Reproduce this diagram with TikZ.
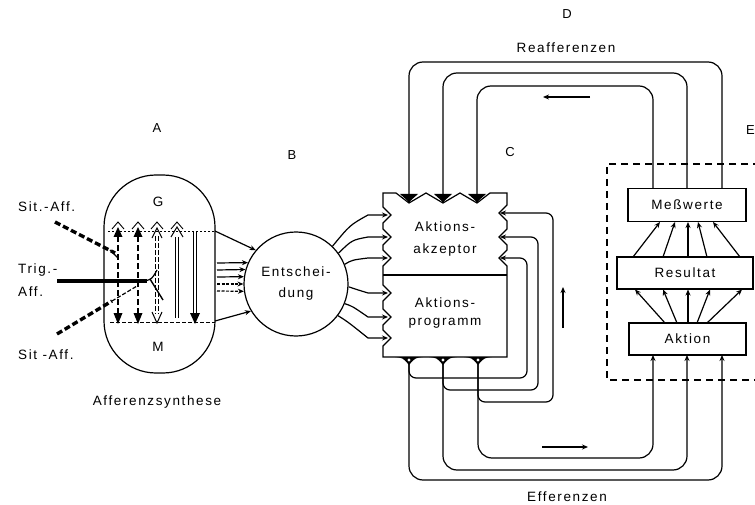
\documentclass[tikz,border=0pt]{standalone}
\usepackage{fontspec}
\setmainfont[LetterSpace=12]{Liberation Sans}
\usetikzlibrary{arrows.meta}
\begin{document}
\begin{tikzpicture}[x=1pt,y=-1pt,
  every node/.style={font=\fontsize{13.5}{20}\selectfont, inner sep=0pt},
  letter/.style={font=\fontsize{13}{14}\selectfont},
  ln/.style={line width=1.2pt},
  arr/.style={ln,-{Stealth[length=6pt,width=5pt]}},
  bigarr/.style={ln,-{Stealth[length=8pt,width=10pt]}},
  box/.style={draw, line width=1.2pt, rectangle, align=center},
  loop/.style={bigarr, rounded corners=14pt},
  coll/.style={arr, rounded corners=7pt},
  eff/.style={arr, rounded corners=14pt},
  thickdash/.style={line width=3.4pt, dash pattern=on 6pt off 3pt},
  hollow/.style={line width=0.9pt, double, double distance=1.8pt}
]
\useasboundingbox (0,0) rectangle (755,505);

% ---------- labels ----------
\node[letter] (lA) at (157,128) {A};
\node[letter] (lB) at (292,155) {B};
\node[letter] (lC) at (510,152) {C};
\node[letter] (lD) at (567,14) {D};
\node[letter, anchor=east] (lE) at (755,130) {E};
\node (reaff) at (566,48) {Reafferenzen};
\node (eff) at (567,497) {Efferenzen};
\node (afs) at (157,402) {Afferenzsynthese};
\node[anchor=west] (sit1) at (18,207) {Sit.-Aff.};
\node[anchor=west] (trig1) at (18,270) {Trig.-};
\node[anchor=west] (trig2) at (18,292) {Aff.};
\node[anchor=west] (sit2) at (18,355) {Sit -Aff.};

% ---------- A : Afferenzsynthese ----------
\node[draw, line width=1.2pt, minimum width=111pt, minimum height=198pt,
      rounded corners=52pt] (syn) at (159.5,274) {};
\node (G) at (158,202) {G};
\node (M) at (158,347) {M};

\foreach \x in {118,138}{
  \draw[thickdash, line width=2.8pt] (\x,236) -- (\x,314);
  \fill (\x-4.5,237) -- (\x,227) -- (\x+4.5,237) -- cycle;
  \fill (\x-4.5,313) -- (\x,324) -- (\x+4.5,313) -- cycle;
  \draw[line width=0.9pt] (\x-6,229) -- (\x,222) -- (\x+6,229);
}
\draw[hollow, dash pattern=on 5pt off 2pt] (157,236) -- (157,314);
\draw[line width=1pt] (152,238) -- (157,228) -- (162,238);
\draw[line width=1pt] (152,312) -- (157,323) -- (162,312);
\draw[line width=0.9pt] (151,229) -- (157,222) -- (163,229);
\draw[hollow] (177,237) -- (177,318);
\draw[line width=1pt] (171,237) -- (177,227) -- (183,237);
\draw[line width=0.9pt] (171,229) -- (177,222) -- (183,229);
\draw[hollow] (195,232) -- (195,313);
\fill (190,313) -- (195,324) -- (200,313) -- cycle;

\draw[line width=0.8pt, dash pattern=on 2pt off 2pt] (108,231) -- (215,231);
\draw[line width=0.8pt, dash pattern=on 4pt off 2pt] (110,322) -- (215,322);

% afferent inputs
\draw[thickdash] (55,222) -- (115,253);
\draw[line width=1.4pt] (110,250) -- (118,258);
\draw[line width=4.2pt] (57,281) -- (147,281);
\draw[line width=1.2pt] (145,281) .. controls (152,279) .. (157,270);
\draw[line width=1.4pt] (150,279) -- (163,300);
\draw[thickdash] (57,334) -- (112,301);
\draw[line width=1.2pt, dash pattern=on 4pt off 2pt] (112,301) -- (137,286);

% ---------- B : Entscheidung ----------
\node[draw, circle, line width=1.2pt, minimum size=104pt, align=center,
      font=\fontsize{13.5}{21}\selectfont] (ent) at (296,284) {Entschei-\\dung};

\draw[arr] (215,231) -- (ent.140);
\draw[arr] (215,321) -- (ent.211);
\draw[arr] (217,263) -- (ent.156);
\draw[arr] (217,270) -- (ent.164);
\draw[arr] (217,277) -- (ent.172);
\draw[arr, dash pattern=on 3pt off 1.5pt] (217,284) -- (ent.180);
\draw[arr, dash pattern=on 3pt off 1.5pt] (217,291) -- (ent.188);

% ---------- C : Aktionsakzeptor / Aktionsprogramm ----------
\draw[line width=1.2pt, line join=miter]
  (383,193) -- (396,193) -- (409,203) -- (426,193) -- (443,203) -- (460,193)
  -- (477,203) -- (490,193) -- (507,193)
  -- (507,205) -- (499,213) -- (507,221)
  -- (507,229) -- (499,237) -- (507,245)
  -- (507,250) -- (499,258) -- (507,266)
  -- (507,357) -- (383,357)
  -- (383,346) -- (391,338) -- (383,330)
  -- (383,325) -- (391,317) -- (383,309)
  -- (383,301) -- (391,293) -- (383,285)
  -- (383,266) -- (391,258) -- (383,250)
  -- (383,245) -- (391,237) -- (383,229)
  -- (383,223) -- (391,215) -- (383,207) -- cycle;
\draw[line width=1.2pt] (383,275) -- (507,275);
\node[align=center, font=\fontsize{13.5}{22}\selectfont] (akz) at (445,239) {Aktions-\\akzeptor};
\node[align=center, font=\fontsize{13.5}{18}\selectfont] (prog) at (445,313) {Aktions-\\programm};

% ports
\coordinate (T1) at (409,203); \coordinate (T2) at (443,203); \coordinate (T3) at (477,203);
\coordinate (B1) at (409,364); \coordinate (B2) at (443,364); \coordinate (B3) at (478,364);
\coordinate (R1) at (500,213); \coordinate (R2) at (500,237); \coordinate (R3) at (500,258);
\foreach \y [count=\i] in {215,237,258,293,317,338}{ \coordinate (L\i) at (388,\y); }

% top notch heads
\foreach \x in {409,443,477}{
  \fill (\x-9,194) -- (\x+9,194) -- (\x,202) -- cycle;
}
% bottom tails
\foreach \x in {409,443,478}{
  \fill (\x-14,357) .. controls (\x-6,358) .. (\x,365) .. controls (\x+6,358) .. (\x+14,357) -- cycle;
  \fill[white] (\x,360) circle (1.6pt);
}

% decisions -> C
\draw[arr] (ent.46) .. controls (350,225) .. (368,215) -- (L1);
\draw[arr] (ent.36) .. controls (352,240) .. (368,237) -- (L2);
\draw[arr] (ent.22) .. controls (352,260) .. (368,258) -- (L3);
\draw[arr] (ent.-3) .. controls (355,289) .. (368,293) -- (L4);
\draw[arr] (ent.-22) .. controls (352,306) .. (368,317) -- (L5);
\draw[arr] (ent.-37) .. controls (348,322) .. (368,338) -- (L6);

% ---------- E : effector system ----------
\draw[line width=1.1pt, dash pattern=on 7pt off 5pt] (760,164) -- (607,164) -- (607,380) -- (760,380);
\node[box, minimum width=118pt, minimum height=33pt] (mess) at (687,205) {Meßwerte};
\node[box, minimum width=136pt, minimum height=32pt] (res) at (685,273) {Resultat};
\node[box, minimum width=117pt, minimum height=32pt] (akt) at (687.5,339) {Aktion};

\coordinate (m1) at (653,188.5); \coordinate (m2) at (687,188.5); \coordinate (m3) at (722,188.5);
\coordinate (a1) at (653,355); \coordinate (a2) at (687,355); \coordinate (a3) at (722,355);

% Reafferenzen
\draw[loop] (m3) -- (722,62) -- (409,62) -- (T1);
\draw[loop] (m2) -- (687,73) -- (443,73) -- (T2);
\draw[loop] (m1) -- (653,86) -- (477,86) -- (T3);

% collaterals
\draw[coll] (B1) -- (409,378) -- (527,378) -- (527,258) -- (R3);
\draw[coll] (B2) -- (443,390) -- (538,390) -- (538,237) -- (R2);
\draw[coll] (B3) -- (478,402) -- (553,402) -- (553,213) -- (R1);

% Efferenzen
\draw[eff] (B1) -- (409,480) -- (722,480) -- (a3);
\draw[eff] (B2) -- (443,470) -- (687,470) -- (a2);
\draw[eff] (B3) -- (478,458) -- (653,458) -- (a1);

% Aktion -> Resultat
\draw[arr] (665,323) -- (635,289.5);
\draw[arr] (677,323) -- (663,289.5);
\draw[arr] (688,323) -- (688,289.5);
\draw[arr] (697,323) -- (710,289.5);
\draw[arr] (707,323) -- (742,289.5);
% Resultat -> Messwerte
\draw[arr] (633,257) -- (660,222);
\draw[arr] (663,257) -- (675,222);
\draw[arr] (688,257) -- (688,222);
\draw[arr] (707,257) -- (698,222);
\draw[arr] (740,257) -- (713,222);

% direction arrows
\draw[arr] (590,97) -- (543,97);
\draw[arr] (563,328) -- (563,287);
\draw[arr] (542,447) -- (588,447);
\end{tikzpicture}
\end{document}
